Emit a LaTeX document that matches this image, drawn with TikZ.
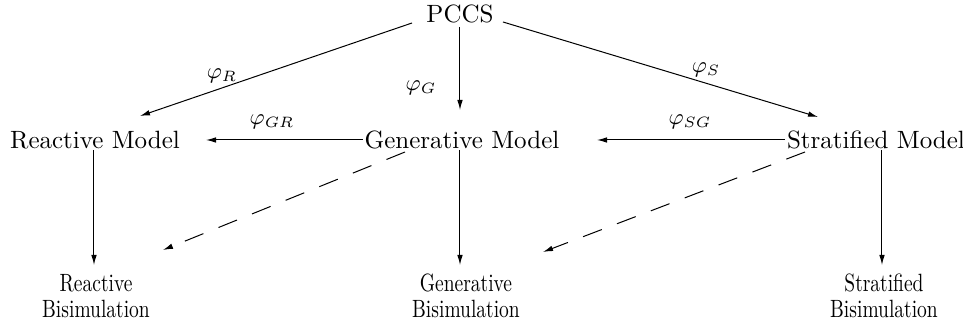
\documentclass[tikz,border=0pt]{standalone}
\usetikzlibrary{arrows.meta,calc}
\begin{document}
\begin{tikzpicture}[x=0.4pt,y=-0.4pt,
  lbl/.style={inner sep=0pt,font=\fontsize{10}{12}\selectfont},
  phi/.style={inner sep=0pt,font=\fontsize{9}{11}\selectfont},
  bis/.style={inner sep=0pt,align=center,font=\fontsize{10}{10.5}\selectfont},
  arr/.style={line width=0.4pt,-{Latex[length=4pt,width=2.2pt]}},
  dsh/.style={arr,dash pattern=on 8pt off 6.5pt}]
\useasboundingbox (0,0) rectangle (963,324);
\node[lbl] (P) at (460,14) {PCCS};
\node[lbl] (R) at (95,140) {Reactive Model};
\node[lbl] (G) at (462,140) {Generative Model};
\node[lbl] (S) at (876,140) {Stratified Model};
\node[bis] (RB) at (96,296) {\scalebox{0.78}[1]{Reactive}\\\scalebox{0.78}[1]{Bisimulation}};
\node[bis] (GB) at (466,296) {\scalebox{0.78}[1]{Generative}\\\scalebox{0.78}[1]{Bisimulation}};
\node[bis] (SB) at (884,296) {\scalebox{0.78}[1]{Stratified}\\\scalebox{0.78}[1]{Bisimulation}};
% PCCS arrows
\draw[arr] ($(P)+(-48,9)$) -- ($(R)+(45,-24)$);
\draw[arr] ($(P)+(0,13)$) -- ($(G)+(-2,-30)$);
\draw[arr] ($(P)+(43,8)$) -- ($(S)+(-58,-23)$);
% horizontal
\draw[arr] ($(G)+(-99,0)$) -- ($(R)+(111,0)$);
\draw[arr] ($(S)+(-91,0)$) -- ($(G)+(135,0)$);
% vertical
\draw[arr] ($(R)+(-1,10)$) -- ($(RB)+(-2,-31)$);
\draw[arr] ($(G)+(-2,10)$) -- ($(GB)+(-6,-31)$);
\draw[arr] ($(S)+(6,10)$) -- ($(SB)+(-2,-31)$);
% dashed
\draw[dsh] ($(G)+(-57,12)$) -- ($(RB)+(67,-46)$);
\draw[dsh] ($(S)+(-71,12)$) -- ($(GB)+(77,-44)$);
% labels
\node[phi] (lR) at (222,76) {$\varphi_{R}$};
\node[phi] (lG) at (421,88) {$\varphi_{G}$};
\node[phi] (lS) at (706,70) {$\varphi_{S}$};
\node[phi] (lGR) at (272,122) {$\varphi_{GR}$};
\node[phi] (lSG) at (690,122) {$\varphi_{SG}$};
\end{tikzpicture}
\end{document}
